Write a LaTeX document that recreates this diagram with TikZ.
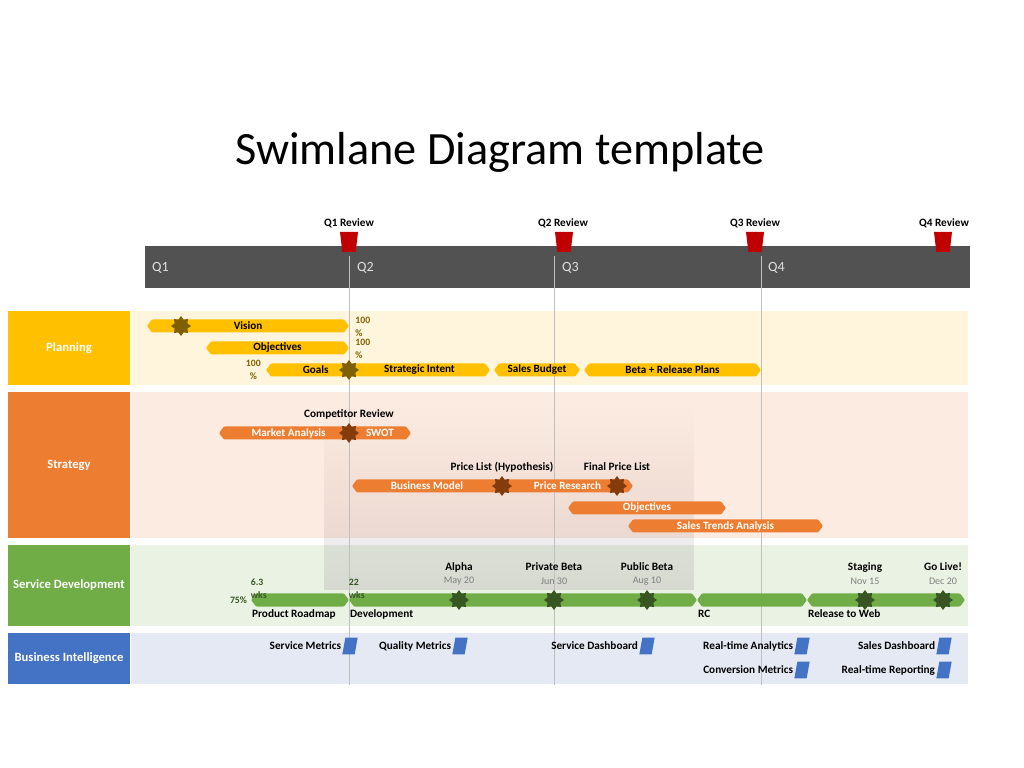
\documentclass[tikz,border=0pt]{standalone}
\usepackage{fontspec}
\setmainfont{Carlito}
\definecolor{planfill}{HTML}{FFC000}
\definecolor{planbg}{HTML}{FFF5DC}
\definecolor{plandark}{HTML}{7F6000}
\definecolor{stratfill}{HTML}{ED7D31}
\definecolor{stratbg}{HTML}{FCEBE0}
\definecolor{stratdark}{HTML}{843C0C}
\definecolor{svcfill}{HTML}{70AD47}
\definecolor{svcbg}{HTML}{EAF2E4}
\definecolor{svcdark}{HTML}{375623}
\definecolor{bifill}{HTML}{4472C4}
\definecolor{bibg}{HTML}{E4E9F4}
\definecolor{darkbar}{HTML}{525252}
\definecolor{revred}{HTML}{C00000}
\definecolor{gentlegray}{HTML}{7F7F7F}
\definecolor{gridgray}{HTML}{BFBFBF}
\usetikzlibrary{shapes.geometric, shapes.symbols, positioning, fadings}
\tikzset{
  lanehead/.style={
    fill=#1, text=white, font=\fontsize{10.8}{12}\selectfont\bfseries,
    minimum width=3.66cm, inner sep=0pt
  },
  lanebg/.style={fill=#1, minimum width=25.11cm, inner sep=0pt},
  task/.style={
    signal, signal to=west and east, signal pointer angle=105,
    fill=#1, minimum height=0.39cm, inner sep=0pt, rounded corners=0.8pt,
    font=\fontsize{9.5}{10}\selectfont\bfseries
  },
  task/.default=planfill,
  ms/.style={
    star, star points=8, star point ratio=1.45, fill=#1,
    minimum size=0.6cm, inner sep=1pt
  },
  lbl/.style={
    font=\fontsize{9.6}{10}\selectfont\bfseries, inner sep=1pt,
    text height=1.6ex, text depth=0.4ex
  },
  date/.style={font=\fontsize{8.6}{10}\selectfont, text=gentlegray, inner sep=1pt},
  pct/.style={
    font=\fontsize{8.3}{11}\selectfont\bfseries, text=#1,
    align=left, inner sep=0pt
  },
  pct/.default=plandark,
  review/.style={
    trapezium, trapezium angle=80, shape border rotate=180, fill=revred,
    trapezium stretches=true,
    minimum height=0.6cm, minimum width=0.54cm, inner sep=1pt
  },
  metric/.style={
    trapezium, trapezium left angle=72, trapezium right angle=108,
    trapezium stretches=true,
    fill=bifill, minimum height=0.5cm, minimum width=0.46cm, inner sep=1pt
  },
  qlbl/.style={font=\fontsize{12}{14}\selectfont, text=white!88!black},
  grid/.style={draw=gridgray, line width=0.6pt},
}

\begin{document}
\begin{tikzpicture}[x=0.03cm, y=-0.03cm]
  \useasboundingbox (0,0) rectangle (1024,768);

  % Title
  \node[font=\fontsize{39.5}{44}\selectfont] (title) at (500,152)
    {Swimlane Diagram template};

  % Quarters
  \node[fill=darkbar, minimum width=24.75cm, minimum height=1.26cm,
    inner sep=0pt] (tl) at (557.5,267) {};
  \node[qlbl, anchor=west] (q1) at (148,268) {Q1};
  \node[qlbl, anchor=west] (q2) at (353,268) {Q2};
  \node[qlbl, anchor=west] (q3) at (558,268) {Q3};
  \node[qlbl, anchor=west] (q4) at (764,268) {Q4};

  % Lanes
  \node[lanehead=planfill, minimum height=2.22cm] (plan) at (69,348) {Planning};
  \node[lanebg=planbg, minimum height=2.22cm] (planlane) at (549.5,348) {};
  \node[lanehead=stratfill, minimum height=4.38cm] (strat) at (69,465) {Strategy};
  \node[lanebg=stratbg, minimum height=4.38cm] (stratlane) at (549.5,465) {};
  \node[lanehead=svcfill, minimum height=2.43cm] (svc) at (69,585.5)
    {Service Development};
  \node[lanebg=svcbg, minimum height=2.43cm] (svclane) at (549.5,585.5) {};
  \node[lanehead=bifill, minimum height=1.53cm] (bi) at (69,658.5)
    {Business Intelligence};
  \node[lanebg=bibg, minimum height=1.53cm] (bilane) at (549.5,658.5) {};

  % Focus band
  \fill[black!70!violet, fill opacity=0.1, path fading=north]
    (324,405) rectangle (694,590);

  % Quarter lines
  \draw[grid] (349,256) -- (349,685);
  \draw[grid] (554,256) -- (554,685);
  \draw[grid] (761,256) -- (761,685);

  % Reviews
  \node[review] (r1) at (349,242) {};
  \node[review] (r2) at (564,242) {};
  \node[review] (r3) at (755,242) {};
  \node[review] (r4) at (943,242) {};
  \node[lbl] at (349,223) {Q1 Review};
  \node[lbl] at (563,223) {Q2 Review};
  \node[lbl] at (755,223) {Q3 Review};
  \node[lbl] at (944,223) {Q4 Review};

  % Planning
  \node[task, minimum width=6.06cm] (vision) at (248,326) {Vision};
  \node[task, minimum width=4.29cm] (obj) at (277.5,348) {Objectives};
  \node[task, minimum width=2.49cm] (goals) at (307.5,370) {\hspace{14pt}Goals};
  \node[task, minimum width=4.23cm] (intent) at (419.5,370) {Strategic Intent};
  \node[task, minimum width=2.58cm] (budget) at (537,370) {Sales Budget};
  \node[task, minimum width=5.31cm] (beta) at (672.5,370) {Beta + Release Plans};
  \node[ms=plandark] (vstar) at (181,326) {};
  \node[ms=plandark] (gstar) at (349,370) {};
  \node[pct, anchor=west] at ([xshift=5,yshift=-1]vision.east) {100\\\%};
  \node[pct, anchor=west] at ([xshift=5,yshift=-1]obj.east) {100\\\%};
  \node[pct, align=center, anchor=east] at ([xshift=-4]goals.west) {100\\\%};

  % Strategy
  \node[task=stratfill, text=white, minimum width=3.9cm] (market) at (284,433)
    {\hspace{8pt}Market Analysis};
  \node[task=stratfill, text=white, minimum width=1.86cm] (swot) at (380,433) {SWOT};
  \node[task=stratfill, text=white, minimum width=4.5cm] (model) at (427,486)
    {Business Model};
  \node[task=stratfill, text=white, minimum width=3.93cm] (research) at (567.5,486)
    {Price Research};
  \node[task=stratfill, text=white, minimum width=4.74cm] (sobj) at (647,508)
    {Objectives};
  \node[task=stratfill, text=white, minimum width=5.85cm] (trends) at (725.5,526)
    {Sales Trends Analysis};
  \node[ms=stratdark] (comp) at (349,433) {};
  \node[ms=stratdark] (hyp) at (502,486) {};
  \node[ms=stratdark] (final) at (617,486) {};
  \node[lbl] at (349,414) {Competitor Review};
  \node[lbl] at (502,467) {Price List (Hypothesis)};
  \node[lbl] at (617,467) {Final Price List};

  % Service Development
  \node[task=svcfill, minimum width=2.94cm] (roadmap) at (300,600) {};
  \node[task=svcfill, minimum width=10.44cm] (dev) at (523,600) {};
  \node[task=svcfill, minimum width=3.3cm] (rc) at (752,600) {};
  \node[task=svcfill, minimum width=4.74cm] (web) at (886,600) {};
  \node[lbl, anchor=north west] at (roadmap.west |- roadmap.south) {Product Roadmap};
  \node[lbl, anchor=north west] at (dev.west |- dev.south) {Development};
  \node[lbl, anchor=north west] at (rc.west |- rc.south) {RC};
  \node[lbl, anchor=north west] at (web.west |- web.south) {Release to Web};
  \node[pct=svcdark, anchor=south west] at ([yshift=-5]roadmap.west |- roadmap.north)
    {6.3\\wks};
  \node[pct=svcdark, anchor=south west] at ([yshift=-5]dev.west |- dev.north)
    {22\\wks};
  \node[pct=svcdark, anchor=east] at ([xshift=-3]roadmap.west) {75\%};
  \foreach \nm/\x/\txt/\dt in {alpha/459/Alpha/May 20, pbeta/554/Private Beta/Jun 30,
      pubbeta/647/Public Beta/Aug 10, staging/865/Staging/Nov 15,
      golive/943/Go Live!/Dec 20}{
    \node[ms=svcdark] (\nm) at (\x,600) {};
    \node[date] (\nm-date) at (\x,581) {\dt};
    \node[lbl] at (\x,567) {\txt};
  }

  % Business Intelligence
  \node[metric] (msvc) at (350,646) {};
  \node[metric] (mqual) at (460,646) {};
  \node[metric] (mdash) at (647,646) {};
  \node[metric] (mrta) at (802,646) {};
  \node[metric] (msales) at (944,646) {};
  \node[metric] (mconv) at (802,670) {};
  \node[metric] (mrtr) at (944,670) {};
  \node[lbl, left=1pt of msvc] {Service Metrics};
  \node[lbl, left=1pt of mqual] {Quality Metrics};
  \node[lbl, left=1pt of mdash] {Service Dashboard};
  \node[lbl, left=1pt of mrta] {Real-time Analytics};
  \node[lbl, left=1pt of msales] {Sales Dashboard};
  \node[lbl, left=1pt of mconv] {Conversion Metrics};
  \node[lbl, left=1pt of mrtr] {Real-time Reporting};
\end{tikzpicture}
\end{document}
